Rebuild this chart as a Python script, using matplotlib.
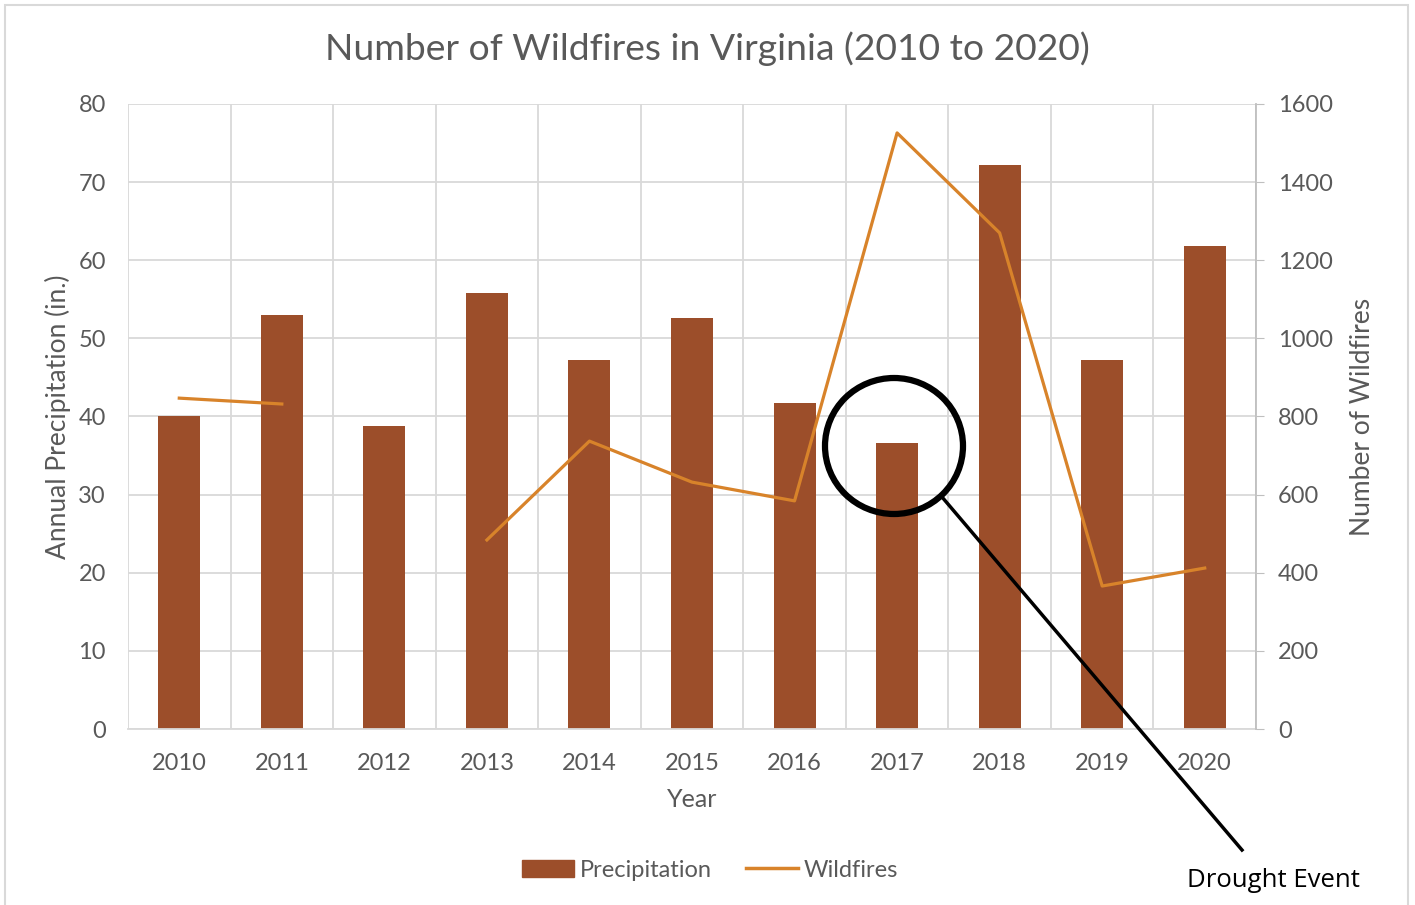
import numpy as np
import matplotlib.pyplot as plt
from matplotlib.patches import Ellipse, Rectangle
from matplotlib.lines import Line2D

#  ############################# Data ###################################

years = ['2010', '2011', '2012', '2013', '2014', '2015',
         '2016', '2017', '2018', '2019', '2020']
precipitation = [40.0, 53.0, 38.8, 55.8, 47.2, 52.6, 41.7, 36.6, 72.2, 47.2, 61.8]
wildfires = [847, 832, np.nan, 484, 737, 632, 584, 1526, 1270, 366, 412]

#  ############################# Plot parameters ##############################

plt.rcParams['font.family'] = ['Lato', 'DejaVu Sans']
text_color = '#595959'
grid_color = '#d9d9d9'
bar_color = '#9c4e2a'
line_color = '#d8832a'

fig = plt.figure(figsize=(14.15, 9.05), dpi=100)
ax = fig.add_axes([128/1415, 1 - 729/905, (1256-128)/1415, (729-104)/905])
ax2 = ax.twinx()

x = np.arange(len(years))
ax.bar(x, precipitation, width=0.41, color=bar_color, zorder=2)
ax2.plot(x, wildfires, color=line_color, lw=2.3, zorder=3)

ax.set_xlim(-0.5, len(years) - 0.5)
ax.set_ylim(0, 80)
ax2.set_ylim(0, 1600)
ax.set_yticks(range(0, 81, 10))
ax2.set_yticks(range(0, 1601, 200))
ax.set_xticks(x)
ax.set_xticklabels(years)
ax.set_xticks(np.arange(-0.5, len(years)), minor=True)

ax.grid(True, which='minor', axis='x', color=grid_color, lw=1.3, zorder=0)
ax.grid(True, which='major', axis='y', color=grid_color, lw=1.3, zorder=0)
ax.set_axisbelow(True)

for a in (ax, ax2):
    for s in a.spines.values():
        s.set_visible(False)
ax.spines['bottom'].set_visible(True)
ax.spines['bottom'].set_color(grid_color)
ax.spines['bottom'].set_linewidth(1.3)
ax2.spines['right'].set_visible(True)
ax2.spines['right'].set_color('#bfbfbf')
ax2.spines['right'].set_linewidth(1.3)

ax.tick_params(axis='both', which='both', length=0, labelsize=17,
               labelcolor=text_color, pad=16)
ax.tick_params(axis='x', pad=17)
ax2.tick_params(axis='y', length=6, color='#bfbfbf', labelsize=17,
                labelcolor=text_color, pad=10)

ax.set_xlabel('Year', fontsize=18, color=text_color, labelpad=10)
ax.set_ylabel('Annual Precipitation (in.)', fontsize=19, color=text_color, labelpad=5.5)
ax2.set_ylabel('Number of Wildfires', fontsize=19, color=text_color, labelpad=12)

fig.text(0.5, 1 - 49/905, 'Number of Wildfires in Virginia (2010 to 2020)',
         ha='center', va='center', fontsize=26.8, color=text_color)

handles = [Rectangle((0, 0), 1, 1, color=bar_color),
           Line2D([0], [0], color=line_color, lw=2.5)]
fig.legend(handles, ['Precipitation', 'Wildfires'], loc='center',
           bbox_to_anchor=(710/1415, 1 - 870/905), ncol=2, frameon=False,
           fontsize=17, labelcolor=text_color, handlelength=2.2,
           handletextpad=0.25, columnspacing=1.45)

# drought annotation
fig.add_artist(Ellipse((894/1415, 1 - 446/905), 138/1415, 136/905,
                       transform=fig.transFigure, fill=False,
                       edgecolor='black', lw=4.5, zorder=5))
fig.add_artist(Line2D([942/1415, 1242/1415], [1 - 497/905, 1 - 850/905],
                      transform=fig.transFigure, color='black', lw=2.5, zorder=5))
fig.text(1273/1415, 1 - 880/905, 'Drought Event', ha='center', va='center',
         fontsize=18.5, color='black', family=['Open Sans', 'DejaVu Sans'])

# chart border
fig.add_artist(Rectangle((5/1415, -0.01), 1403/1415, 1 - 5/905 + 0.01,
                         transform=fig.transFigure, fill=False,
                         edgecolor=grid_color, lw=1.5))

plt.savefig('out.png', dpi=100)
